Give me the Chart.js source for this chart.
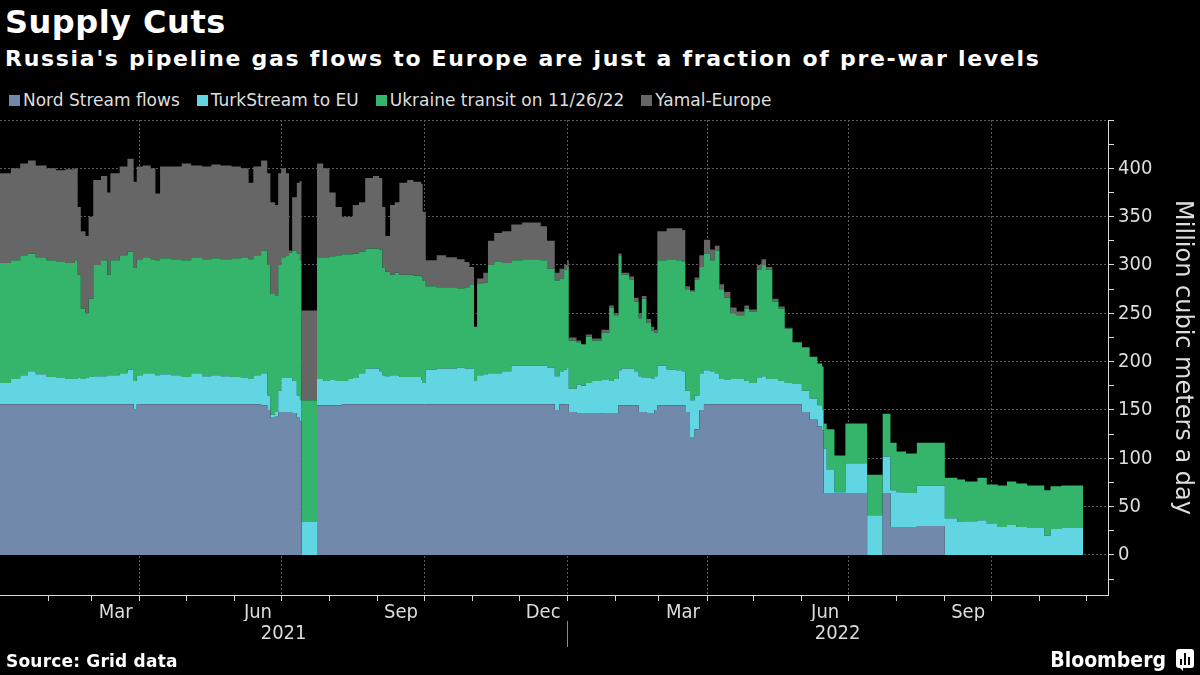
<!DOCTYPE html>
<html>
<head>
<meta charset="utf-8">
<script src="https://cdn.jsdelivr.net/npm/chart.js@4.4.1/dist/chart.umd.min.js"></script>
<style>
  html, body { margin: 0; padding: 0; background: #000; }
  body { width: 1200px; height: 675px; position: relative; overflow: hidden;
         font-family: 'DejaVu Sans', sans-serif; color: #fff; }
  canvas { position: absolute; left: 0; top: 0; }
  .txt { position: absolute; line-height: 1; white-space: nowrap; }
  #title { left: 5px; top: 6px; font-size: 32px; font-weight: bold; letter-spacing: 0.5px; }
  #subtitle { left: 5px; top: 48px; font-size: 22px; font-weight: bold; letter-spacing: 1.7px; }
  #legend { left: 9px; top: 92px; font-size: 17px; color: #dedede; display: flex; }
  #legend .item { display: flex; align-items: center; margin-right: 17px; }
  #legend .box { width: 11px; height: 11px; margin-right: 3px; }
  #source { left: 6px; top: 653px; font-size: 17px; font-weight: bold; letter-spacing: 0.2px; }
  #brand { right: 34px; top: 650px; font-size: 21px; font-weight: bold;
           font-family: 'DejaVu Sans Condensed', 'DejaVu Sans', sans-serif; }
  #logo { position: absolute; left: 1176px; top: 649px; width: 18px; height: 22px; }
</style>
</head>
<body>
<div id="title" class="txt">Supply Cuts</div>
<div id="subtitle" class="txt">Russia's pipeline gas flows to Europe are just a fraction of pre-war levels</div>
<div id="legend" class="txt"></div>
<canvas id="myChart" width="1200" height="675"></canvas>
<div id="source" class="txt">Source: Grid data</div>
<div id="brand" class="txt">Bloomberg</div>
<svg id="logo" viewBox="0 0 18 22">
  <rect x="0" y="0" width="18" height="19" rx="3" fill="#fff"/>
  <path d="M4 19 L7 22 L7 19 Z" fill="#fff"/>
  <rect x="4" y="10" width="2" height="6" fill="#000"/>
  <rect x="8" y="4" width="2" height="12" fill="#000"/>
  <rect x="12" y="8" width="2" height="8" fill="#000"/>
</svg>
<script>
// Series names and colours (legend order = stacking order, bottom first)
const seriesNames = ['Nord Stream flows', 'TurkStream to EU', 'Ukraine transit on 11/26/22', 'Yamal-Europe'];
const seriesColors = ['#7189aa', '#62d5e2', '#35b46b', '#666666'];

// Days since 2021-01-01; each value holds until the next day in the list
const days = [0, 7, 13, 18, 23, 30, 36, 42, 48, 50, 52, 55, 57, 60, 65, 69, 71, 77, 82, 86,
  88, 92, 97, 100, 103, 110, 117, 123, 130, 136, 142, 149, 155, 160, 163, 168, 172, 174, 177, 179,
  181, 184, 186, 188, 191, 193, 194, 204, 208, 212, 216, 220, 224, 227, 231, 235, 240, 244, 246, 248,
  251, 254, 257, 262, 266, 271, 272, 274, 281, 287, 294, 299, 302, 305, 307, 311, 314, 318, 323, 329,
  336, 342, 348, 352, 357, 360, 363, 365, 366, 371, 374, 377, 381, 387, 392, 395, 398, 400, 405, 408,
  411, 413, 416, 419, 421, 423, 429, 435, 439, 441, 444, 447, 450, 453, 457, 460, 463, 466, 470, 474,
  479, 482, 487, 490, 493, 497, 501, 505, 510, 516, 521, 526, 529, 530, 532, 537, 544, 558, 568, 573,
  577, 583, 590, 600, 608, 616, 621, 629, 635, 642, 648, 654, 661, 672, 676, 683, 693, 697];

// Million cubic meters a day
const nordStream = [156, 156, 156, 156, 156, 156, 156, 156, 156, 156, 156, 156, 156, 156, 156, 156, 156, 156, 156, 151,
  156, 156, 156, 156, 156, 156, 156, 156, 156, 156, 156, 156, 156, 156, 156, 155, 150, 142, 143, 148,
  148, 148, 148, 147, 142, 138, 0, 155, 155, 155, 155, 156, 156, 156, 156, 156, 156, 156, 156, 156,
  156, 156, 156, 156, 156, 156, 156, 156, 156, 156, 156, 156, 156, 156, 156, 156, 156, 156, 156, 156,
  156, 156, 156, 156, 150, 156, 156, 156, 148, 147, 147, 147, 147, 146, 146, 146, 155, 155, 155, 155,
  148, 148, 147, 147, 150, 155, 155, 155, 155, 148, 122, 130, 150, 156, 156, 156, 156, 156, 156, 156,
  156, 156, 156, 156, 156, 156, 156, 156, 156, 148, 140, 133, 129, 64, 64, 64, 64, 0, 64, 29,
  29, 29, 30, 30, 0, 0, 0, 0, 0, 0, 0, 0, 0, 0, 0, 0, 0, 0];
const turkStream = [22, 26, 30, 34, 31, 28, 27, 26, 26, 27, 26, 27, 28, 29, 29, 30, 30, 32, 36, 29,
  30, 32, 32, 30, 31, 30, 28, 32, 29, 30, 29, 28, 27, 26, 30, 33, 15, 3, 5, 22,
  35, 35, 35, 33, 23, 22, 34, 27, 25, 26, 25, 24, 26, 27, 32, 37, 37, 34, 30, 29,
  30, 30, 28, 28, 28, 25, 22, 36, 37, 37, 38, 37, 37, 24, 30, 31, 32, 32, 34, 40,
  40, 40, 40, 38, 35, 34, 36, 39, 24, 29, 28, 31, 33, 35, 34, 36, 36, 38, 38, 35,
  37, 35, 36, 35, 35, 41, 37, 36, 35, 22, 38, 35, 38, 35, 34, 32, 26, 25, 26, 26,
  24, 22, 27, 29, 26, 26, 24, 22, 21, 22, 22, 22, 21, 46, 24, 1, 31, 41, 38, 38,
  36, 35, 42, 42, 38, 34, 35, 36, 32, 29, 31, 29, 28, 20, 27, 28, 28, 28];
const ukraine = [124, 123, 124, 122, 121, 121, 120, 120, 123, 107, 73, 67, 81, 115, 120, 104, 119, 122, 122, 117,
  120, 120, 118, 119, 120, 120, 121, 120, 121, 121, 121, 123, 125, 124, 124, 127, 135, 125, 120, 130,
  125, 127, 130, 135, 147, 145, 126, 126, 128, 128, 130, 131, 129, 129, 126, 124, 124, 126, 111, 108,
  104, 106, 106, 106, 105, 107, 106, 86, 84, 84, 82, 84, 87, 56, 95, 95, 112, 115, 112, 109,
  110, 110, 109, 102, 99, 96, 103, 103, 50, 44, 43, 48, 42, 49, 76, 66, 119, 97, 92, 72,
  60, 82, 57, 50, 45, 109, 114, 114, 113, 105, 112, 120, 110, 121, 115, 127, 93, 85, 68, 66,
  75, 74, 112, 115, 113, 80, 75, 56, 43, 45, 43, 43, 45, 26, 42, 38, 41, 42, 44, 49,
  42, 41, 44, 44, 42, 44, 41, 44, 41, 43, 45, 45, 44, 47, 44, 44, 44, 44];
const yamal = [93, 95, 95, 96, 95, 95, 95, 97, 95, 70, 80, 80, 85, 88, 87, 85, 90, 92, 96, 89,
  96, 95, 94, 69, 95, 96, 100, 95, 96, 97, 97, 95, 92, 79, 92, 93, 95, 95, 94, 95,
  92, 85, 2, 55, 73, 82, 93, 97, 92, 66, 50, 39, 39, 50, 51, 73, 75, 74, 63, 37,
  72, 73, 95, 98, 97, 96, 71, 27, 33, 31, 30, 26, 18, 0, 5, 10, 25, 30, 33, 37,
  38, 38, 35, 29, 8, 10, 5, 7, 3, 2, 0, 2, 2, 3, 2, 2, 2, 2, 3, 4,
  5, 3, 4, 4, 3, 30, 32, 33, 33, 3, 2, 2, 12, 14, 11, 5, 5, 6, 6, 4,
  3, 2, 5, 6, 3, 3, 2, 1, 0, 0, 0, 0, 0, 0, 0, 0, 0, 0, 0, 0,
  0, 0, 0, 0, 0, 0, 0, 0, 0, 0, 0, 0, 0, 0, 0, 0, 0, 0];

// Axis labels
const monthTicks = [[2021, 2], [2021, 5], [2021, 8], [2021, 11], [2022, 2], [2022, 5], [2022, 8]];
const monthNames = ['Mar', 'Jun', 'Sep', 'Dec', 'Mar', 'Jun', 'Sep'];
const yearTicks = [2021, 2022];
const yLabels = [0, 50, 100, 150, 200, 250, 300, 350, 400];
const yGrid = [0, 50, 100, 150, 200, 250, 300, 350, 400, 450];
const yMinor = [-25, 0, 25, 50, 75, 100, 125, 150, 175, 200, 225, 250, 275, 300, 325, 350, 375, 400, 425, 450];

const START = Date.UTC(2021, 0, 1);
const dayNum = (y, m, d) => Math.round((Date.UTC(y, m, d) - START) / 864e5);
const X_MAX = dayNum(2022, 11, 15);

const monthStarts = [];
const quarterStarts = [];
yearTicks.forEach(y => {
  for (let m = 0; m < 12; m++) {
    const d = dayNum(y, m, 1);
    if (d > 0 && d <= X_MAX) {
      monthStarts.push(d);
      if (m % 3 === 0) quarterStarts.push(d);
    }
  }
});
const monthMid = monthTicks.map(([y, m]) => (dayNum(y, m, 1) + dayNum(y, m + 1, 1)) / 2);
const yearSplit = dayNum(2022, 0, 1);
const yearMid = yearTicks.map(y => (Math.max(0, dayNum(y, 0, 1)) + Math.min(X_MAX, dayNum(y + 1, 0, 1))) / 2);

// html legend
const legendEl = document.getElementById('legend');
seriesNames.forEach((name, i) => {
  const item = document.createElement('div');
  item.className = 'item';
  item.innerHTML = '<div class="box" style="background:' + seriesColors[i] + '"></div><span>' + name + '</span>';
  legendEl.appendChild(item);
});

const axisFont = "'DejaVu Sans Condensed', 'DejaVu Sans', sans-serif";
Chart.defaults.font.family = axisFont;
Chart.defaults.color = '#dddddd';

const seriesValues = [nordStream, turkStream, ukraine, yamal];
const noPad = s => { s.paddingLeft = 0; s.paddingRight = 0; s.paddingTop = 0; s.paddingBottom = 0; };

var ctx = document.getElementById('myChart');

var gasChart = new Chart(ctx, {
  type: 'line',
  data: {
    datasets: seriesValues.map((vals, i) => ({
      label: seriesNames[i],
      data: days.map((d, j) => ({ x: d, y: vals[j] })),
      backgroundColor: seriesColors[i],
      borderWidth: 0,
      pointRadius: 0,
      stepped: true,
      fill: i === 0 ? 'origin' : '-1'
    }))
  },
  options: {
    responsive: false,
    animation: false,
    devicePixelRatio: 1,
    layout: { padding: { top: 120, left: 0, right: 0, bottom: 0 } },
    plugins: { legend: { display: false }, tooltip: { enabled: false } },
    scales: {
      x: {
        type: 'linear', min: 0, max: X_MAX, position: 'bottom',
        afterBuildTicks: s => { s.ticks = monthStarts.map(v => ({ value: v })); },
        ticks: { display: false },
        grid: {
          color: c => (c.tick && quarterStarts.includes(c.tick.value)) ? '#5e5e5e' : 'rgba(0,0,0,0)',
          tickColor: '#d8d8d8', tickLength: 6
        },
        border: { color: '#d8d8d8', dash: [2, 2] },
        afterFit: s => { s.height = 6; noPad(s); }
      },
      xm: {
        type: 'linear', min: 0, max: X_MAX, position: 'bottom',
        afterBuildTicks: s => { s.ticks = monthMid.map(v => ({ value: v })); },
        ticks: { autoSkip: false, maxRotation: 0, font: { size: 20 }, padding: -8,
                 callback: (v, i) => monthNames[i] },
        grid: { display: false },
        border: { display: false },
        afterFit: s => { s.height = 20; noPad(s); }
      },
      xy: {
        type: 'linear', min: 0, max: X_MAX, position: 'bottom',
        afterBuildTicks: s => { s.ticks = [yearMid[0], yearSplit, yearMid[1]].map(v => ({ value: v })); },
        ticks: { autoSkip: false, maxRotation: 0, font: { size: 20 }, padding: -25,
                 callback: v => v === yearSplit ? '' : String(yearTicks[yearMid.indexOf(v)]) },
        grid: {
          display: true, drawOnChartArea: false, tickLength: 26,
          tickColor: c => (c.tick && c.tick.value === yearSplit) ? '#8a8a8a' : 'rgba(0,0,0,0)'
        },
        border: { display: false },
        afterFit: s => { s.height = 54; noPad(s); }
      },
      y: {
        position: 'right', stacked: true, min: -41.4, max: 450,
        afterBuildTicks: s => { s.ticks = yMinor.map(v => ({ value: v })); },
        ticks: { autoSkip: false, font: { size: 20 }, padding: 4,
                 callback: v => yLabels.includes(v) ? String(v) : '' },
        grid: {
          color: c => (c.tick && yGrid.includes(c.tick.value)) ? '#5e5e5e' : 'rgba(0,0,0,0)',
          tickColor: '#d8d8d8', tickLength: 6
        },
        border: { color: '#d8d8d8', dash: [2, 2] },
        title: { display: true, text: 'Million cubic meters a day', color: '#dddddd',
                 font: { size: 24, family: "'DejaVu Sans', sans-serif" }, padding: { top: 3, bottom: 0 } },
        afterFit: s => { s.width = 92; noPad(s); }
      }
    }
  }
});
</script>
</body>
</html>
